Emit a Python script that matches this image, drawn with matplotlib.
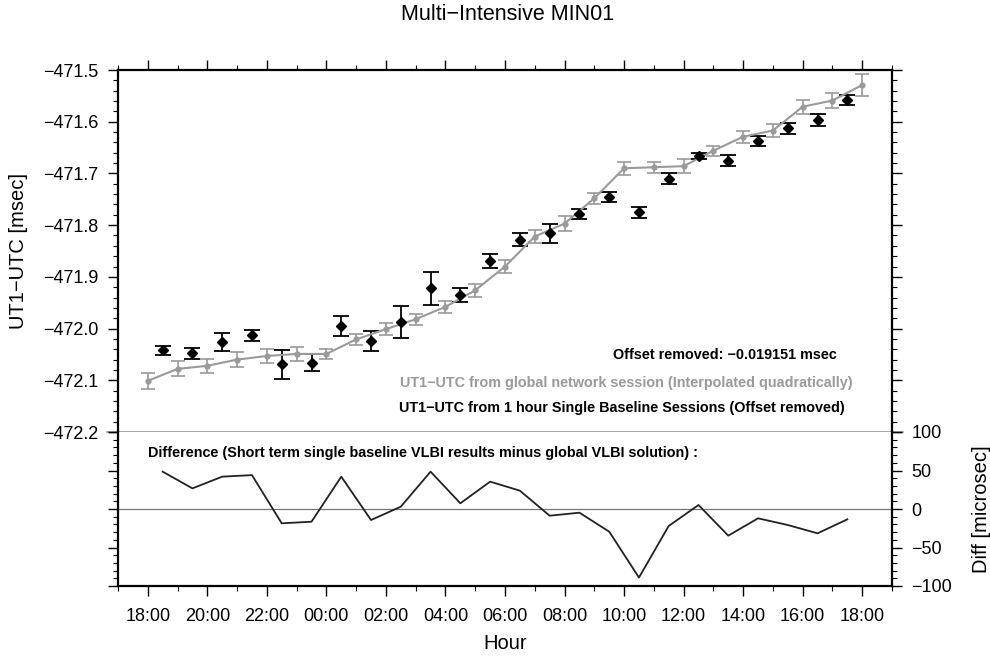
import numpy as np
import matplotlib
matplotlib.use("Agg")
from matplotlib import pyplot as plt
from matplotlib.ticker import MultipleLocator

plt.rcParams['font.family'] = ['Liberation Sans', 'DejaVu Sans']

# global network session (hourly)
hours_global = list(range(25))
ut1_global = [-472.101, -472.078, -472.072, -472.060, -472.053, -472.049, -472.049,
              -472.021, -472.001, -471.982, -471.958, -471.926, -471.880, -471.822,
              -471.797, -471.748, -471.690, -471.688, -471.686, -471.656, -471.629,
              -471.617, -471.571, -471.559, -471.529]
err_global = [0.016, 0.0145, 0.013, 0.0145, 0.014, 0.0135, 0.010, 0.0106, 0.011,
              0.0106, 0.011, 0.013, 0.012, 0.013, 0.014, 0.011, 0.013, 0.011, 0.013,
              0.010, 0.012, 0.012, 0.0135, 0.0145, 0.022]

# 1 hour single baseline sessions
hours_single = [h + 0.5 for h in range(24)]
ut1_single = [-472.042, -472.048, -472.026, -472.013, -472.069, -472.066, -471.995,
              -472.024, -471.987, -471.922, -471.935, -471.869, -471.828, -471.816,
              -471.779, -471.745, -471.775, -471.710, -471.666, -471.675, -471.637,
              -471.613, -471.597, -471.558]
err_single = [0.009, 0.011, 0.017, 0.011, 0.028, 0.016, 0.020, 0.019, 0.031, 0.032,
              0.014, 0.014, 0.013, 0.018, 0.010, 0.010, 0.011, 0.011, 0.006, 0.010,
              0.009, 0.010, 0.011, 0.010]

# difference [microsec]
diff = [48.5, 26.8, 42, 44, -18.6, -16.5, 42, -14.3, 3, 48.5, 7.4, 35.5, 23.8, -8.7,
        -4.8, -29.4, -89, -22, 5.2, -34.6, -12.1, -20.8, -31.6, -13.4]

tick_hours = list(range(0, 25, 2))
tick_labels = ['%02d:00' % ((18 + h) % 24) for h in tick_hours]

grey = '#9a9a9a'
W, H = 990, 657
fig = plt.figure(figsize=(9.9, 6.57), dpi=100)
left, right = 118 / W, 892 / W
ax1 = fig.add_axes([left, 1 - 432 / H, right - left, 362 / H])
ax2 = fig.add_axes([left, 1 - 586 / H, right - left, 154 / H])

# top panel
ax1.errorbar(hours_global, ut1_global, yerr=err_global, color=grey, lw=1.5,
             marker='o', ms=3.5, capsize=5, capthick=1.2, elinewidth=1.2)
ax1.errorbar(hours_single, ut1_single, yerr=err_single, color='black', ls='none',
             marker='D', ms=5.5, capsize=5.5, capthick=1.3, elinewidth=1.3)
ax1.set_xlim(-1, 25)
ax1.set_ylim(-472.2, -471.5)
ax1.yaxis.set_major_locator(MultipleLocator(0.1))
ax1.yaxis.set_minor_locator(MultipleLocator(0.02))
ax1.xaxis.set_major_locator(MultipleLocator(2))
ax1.xaxis.set_minor_locator(MultipleLocator(1))
ax1.yaxis.set_major_formatter(plt.FuncFormatter(lambda v, p: ('%.1f' % v).replace('-', '\u2212')))
ax1.tick_params(axis='x', which='both', bottom=False, top=True, labelbottom=False,
                direction='out')
ax1.tick_params(axis='y', which='both', left=True, right=True, direction='out',
                labelsize=13, pad=7)
ax1.tick_params(which='major', length=7, width=1)
ax1.tick_params(which='minor', length=3.5, width=0.8)
ax1.set_ylabel('UT1\u2212UTC [msec]', fontsize=14.5, labelpad=11)
for s in ['top', 'left', 'right']:
    ax1.spines[s].set_linewidth(1.6)
ax1.spines['bottom'].set_visible(False)
ax1.plot([-0.014, 1.014], [0, 0], transform=ax1.transAxes, color=grey, lw=1.2,
         clip_on=False)

ax1.text(0.929, 0.2127, 'Offset removed: \u22120.019151 msec', transform=ax1.transAxes,
         ha='right', va='center', fontsize=10.35, fontweight='bold')
ax1.text(0.9496, 0.1354, 'UT1\u2212UTC from global network session (Interpolated quadratically)',
         transform=ax1.transAxes, ha='right', va='center', fontsize=10.35,
         fontweight='bold', color=grey)
ax1.text(0.9393, 0.0663, 'UT1\u2212UTC from 1 hour Single Baseline Sessions (Offset removed)',
         transform=ax1.transAxes, ha='right', va='center', fontsize=10.35,
         fontweight='bold')

# bottom panel
ax2.axhline(0, color='#777777', lw=0.9)
ax2.plot(hours_single, diff, color='#222222', lw=1.3)
ax2.set_xlim(-1, 25)
ax2.set_ylim(-100, 100)
ax2.yaxis.set_major_locator(MultipleLocator(50))
ax2.yaxis.set_minor_locator(MultipleLocator(10))
ax2.set_xticks(tick_hours)
ax2.set_xticklabels(tick_labels)
ax2.xaxis.set_minor_locator(MultipleLocator(1))
ax2.yaxis.set_major_formatter(plt.FuncFormatter(lambda v, p: ('%d' % v).replace('-', '\u2212')))
ax2.tick_params(axis='y', which='both', left=True, right=True, labelleft=False,
                labelright=True, direction='out', labelsize=13, pad=7)
ax2.tick_params(axis='x', which='both', top=False, direction='out', labelsize=13, pad=9)
ax2.tick_params(which='major', length=7, width=1)
ax2.tick_params(which='minor', length=3.5, width=0.8)
ax2.yaxis.set_label_position('right')
ax2.set_ylabel('Diff [microsec]', fontsize=14.5, labelpad=14)
ax2.set_xlabel('Hour', fontsize=14.5, labelpad=6)
for s in ['bottom', 'left', 'right']:
    ax2.spines[s].set_linewidth(1.6)
ax2.spines['top'].set_visible(False)
ax2.text(0.0388, 0.8636,
         'Difference (Short term single baseline VLBI results minus global VLBI solution) :',
         transform=ax2.transAxes, ha='left', va='center', fontsize=10.35, fontweight='bold')

fig.text(508 / W, 1 - 15 / H, 'Multi\u2212Intensive MIN01', ha='center', va='center',
         fontsize=15.5)

fig.savefig('out.png', dpi=100)
